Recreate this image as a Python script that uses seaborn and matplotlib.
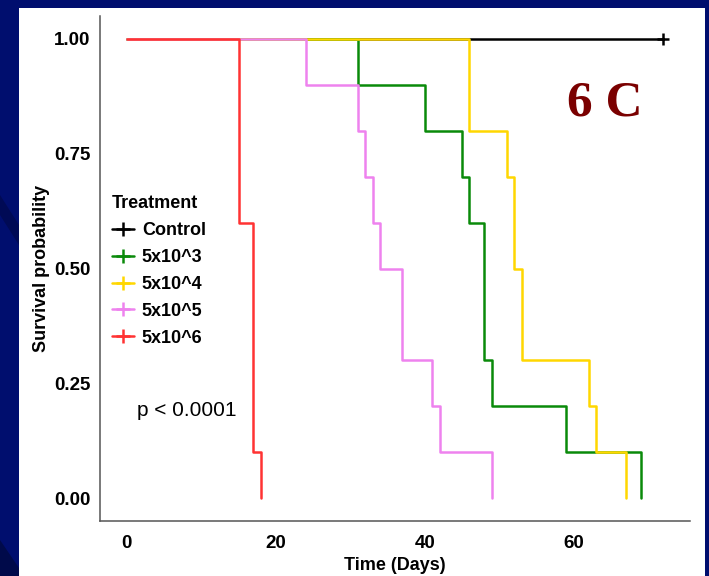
import numpy as np
import pandas as pd
import matplotlib
matplotlib.use("Agg")
import matplotlib.pyplot as plt
from matplotlib.lines import Line2D
from matplotlib.patches import Rectangle, Polygon
import seaborn as sns

# Kaplan-Meier steps (day, survival after that day)
groups = ["Control", "5x10^3", "5x10^4", "5x10^5", "5x10^6"]
colors = ["#000000", "#0A8A0A", "#FFD700", "#EE82EE", "#FF3333"]

control_days = [0, 72]
control_surv = [1.0, 1.0]
e3_days = [0, 31, 40, 45, 46, 48, 49, 59, 69]
e3_surv = [1.0, 0.9, 0.8, 0.7, 0.6, 0.3, 0.2, 0.1, 0.0]
e4_days = [0, 46, 51, 52, 53, 62, 63, 67]
e4_surv = [1.0, 0.8, 0.7, 0.5, 0.3, 0.2, 0.1, 0.0]
e5_days = [0, 24, 31, 32, 33, 34, 37, 41, 42, 49]
e5_surv = [1.0, 0.9, 0.8, 0.7, 0.6, 0.5, 0.3, 0.2, 0.1, 0.0]
e6_days = [0, 15, 17, 18]
e6_surv = [1.0, 0.6, 0.1, 0.0]

censor_days = [72]
censor_surv = [1.0]

x_ticks = [0, 20, 40, 60]
y_ticks = [0.0, 0.25, 0.5, 0.75, 1.0]
y_tick_labels = ["0.00", "0.25", "0.50", "0.75", "1.00"]

# long table for seaborn
frames = []
for name, d, s in zip(groups,
                      [control_days, e3_days, e4_days, e5_days, e6_days],
                      [control_surv, e3_surv, e4_surv, e5_surv, e6_surv]):
    frames.append(pd.DataFrame({"time": d, "surv": s, "Treatment": name}))
df = pd.concat(frames, ignore_index=True)

sns.set_style("white")
plt.rcParams["font.family"] = ["Liberation Sans", "DejaVu Sans"]
plt.rcParams["text.color"] = "black"
plt.rcParams["axes.labelcolor"] = "black"
plt.rcParams["xtick.color"] = "black"
plt.rcParams["ytick.color"] = "black"

W, H = 709, 576
fig = plt.figure(figsize=(W / 100, H / 100), dpi=100, facecolor="#000E6E")

# slide background bits
fig.patches.append(Polygon([[0, 0], [0, 36 / H], [19 / W, 8 / H], [19 / W, 0]],
                           closed=True, transform=fig.transFigure,
                           facecolor="#000A4A", edgecolor="none", zorder=-3))
fig.patches.append(Polygon([[0, 1 - 195 / H], [19 / W, 1 - 225 / H],
                            [19 / W, 1 - 245 / H], [0, 1 - 215 / H]],
                           closed=True, transform=fig.transFigure,
                           facecolor="#000A55", edgecolor="none", zorder=-3))
fig.patches.append(Rectangle((19 / W, 0), (705 - 19) / W, (H - 8) / H,
                             transform=fig.transFigure, facecolor="white",
                             edgecolor="none", zorder=-2))

ax = fig.add_axes([100 / W, 1 - 521 / H, 590 / W, 505 / H])
ax.set_facecolor("none")

sns.lineplot(data=df, x="time", y="surv", hue="Treatment", hue_order=groups,
             palette=colors, estimator=None, sort=False, drawstyle="steps-post",
             linewidth=1.8, legend=False, ax=ax)
ax.plot(censor_days, censor_surv, linestyle="none", marker="+", markersize=9,
        markeredgewidth=1.8, color=colors[0])

ax.set_xlim(-3.6, 75.6)
ax.set_ylim(-0.05, 1.05)
ax.set_xticks(x_ticks)
ax.set_yticks(y_ticks)
ax.set_yticklabels(y_tick_labels)
for lab in ax.get_xticklabels() + ax.get_yticklabels():
    lab.set_fontweight("bold")
    lab.set_fontsize(13.5)
ax.tick_params(axis="both", length=4, width=1, color="#333333")
ax.tick_params(axis="x", pad=6)
ax.tick_params(axis="y", pad=3)

sns.despine(ax=ax)
for side in ["left", "bottom"]:
    ax.spines[side].set_color("#555555")
    ax.spines[side].set_linewidth(1.1)

ax.set_xlabel("Time (Days)", fontsize=13, fontweight="bold", labelpad=4)
ax.set_ylabel("Survival probability", fontsize=13, fontweight="bold", labelpad=3)

handles = [Line2D([0], [0], color=c, linewidth=1.8, marker="+", markersize=10,
                  markeredgewidth=1.8) for c in colors]
leg = ax.legend(handles, groups, title="Treatment", loc="upper left",
                bbox_to_anchor=(103 / W, 1 - 186 / H), bbox_transform=fig.transFigure,
                frameon=False, prop={"weight": "bold", "size": 13},
                title_fontproperties={"weight": "bold", "size": 13},
                alignment="left", handlelength=1.2, handletextpad=0.45,
                labelspacing=0.55, borderpad=0)

ax.text(137 / W, 1 - 410 / H, "p < 0.0001", transform=fig.transFigure,
        fontsize=15, va="center", ha="left")
fig.text(605 / W, 1 - 104 / H, "6 C", fontsize=37, fontweight="bold",
         family="Liberation Serif", color="#7A0000", ha="center", va="center")

fig.savefig("out.png", dpi=100, facecolor=fig.get_facecolor())
